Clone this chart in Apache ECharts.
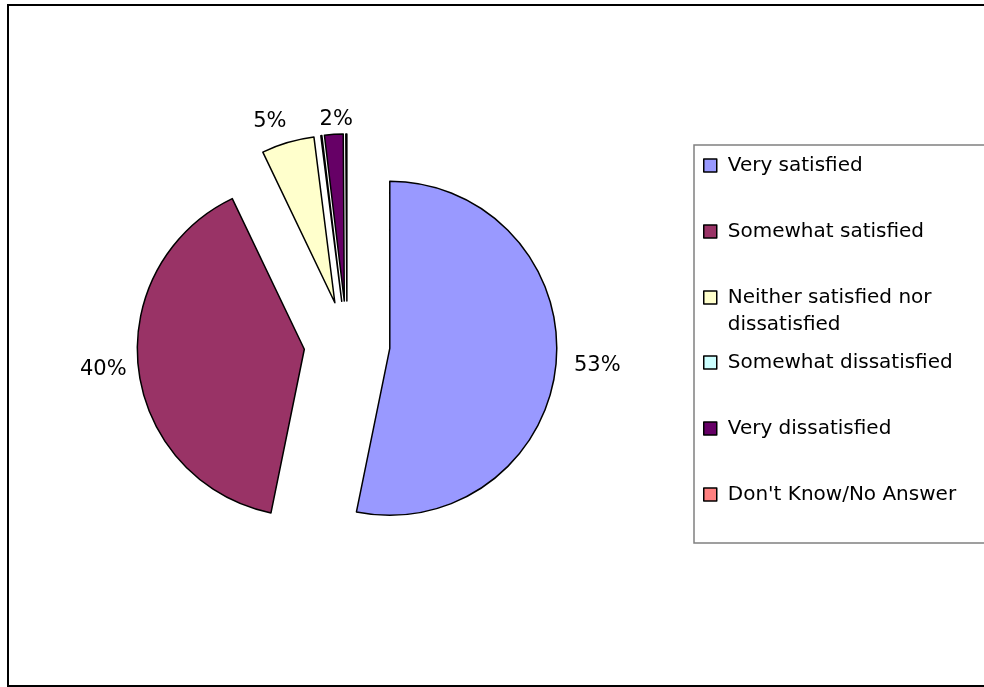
<!DOCTYPE html>
<html>
<head>
<meta charset="utf-8">
<script src="https://cdn.jsdelivr.net/npm/echarts@6/dist/echarts.min.js"></script>
<style>
html,body{margin:0;padding:0;background:#fff;}
#chart{width:984px;height:687px;}
</style>
</head>
<body>
<div id="chart"></div>
<script>
const categories = ['Very satisfied', 'Somewhat satisfied', 'Neither satisfied nor dissatisfied', 'Somewhat dissatisfied', 'Very dissatisfied', "Don't Know/No Answer"];
const values = [53.2, 39.7, 5.1, 0.1, 1.8, 0.1];
const legendLabels = ['Very satisfied', 'Somewhat satisfied', '\nNeither satisfied nor\ndissatisfied', 'Somewhat dissatisfied', 'Very dissatisfied', "Don't Know/No Answer"];
const palette = ['#9999FF', '#993366', '#FFFFCC', '#CCFFFF', '#660066', '#FF8080'];
// label placement (line lengths, hidden) per slice: layout, not data
const labelLens = [[6, 7], [2, 5], [22, -10], [0, 0], [15, -25], [0, 0]];
const labelShow = [true, true, true, false, true, false];

const chart = echarts.init(document.getElementById('chart'));
const font = 'DejaVu Sans';

const legendText = {
  fontFamily: font, fontSize: 20, color: '#000', padding: [0, 0, 0, 6], lineHeight: 27
};

const fmt = name => legendLabels[categories.indexOf(name)];

function makeLegend(idxs, top) {
  return {
    orient: 'vertical', left: 703, top: top, padding: 0, itemGap: 39,
    itemWidth: 13, itemHeight: 13, icon: 'rect', selectedMode: false,
    itemStyle: { borderColor: '#000', borderWidth: 1.5 },
    textStyle: legendText, formatter: fmt,
    data: idxs.map(i => categories[i])
  };
}

const option = {
  animation: false,
  color: palette,
  graphic: [
    { type: 'rect', shape: { x: 8, y: 5, width: 1000, height: 681 }, style: { fill: 'none', stroke: '#000', lineWidth: 2 }, silent: true, z: 100 },
    { type: 'rect', shape: { x: 694, y: 145, width: 400, height: 398 }, style: { fill: 'none', stroke: '#808080', lineWidth: 1.5 }, silent: true, z: 100 }
  ],
  legend: [
    makeLegend([0, 1], 152),
    makeLegend([2], 257),
    makeLegend([3, 4, 5], 349)
  ],
  series: [{
    type: 'pie',
    center: [347, 344],
    radius: 167,
    startAngle: 90,
    clockwise: true,
    selectedMode: 'multiple',
    selectedOffset: 43,
    avoidLabelOverlap: false,
    percentPrecision: 0,
    emphasis: { disabled: true },
    itemStyle: { borderColor: '#000', borderWidth: 1.5 },
    label: {
      show: true, position: 'outside', formatter: '{d}%',
      fontFamily: font, fontSize: 21, color: '#000'
    },
    labelLine: { show: false },
    data: categories.map((c, i) => ({
      name: c,
      value: values[i],
      selected: true,
      label: { show: labelShow[i] },
      labelLine: { show: false, length: labelLens[i][0], length2: labelLens[i][1] }
    }))
  }]
};
chart.setOption(option);
</script>
</body>
</html>
